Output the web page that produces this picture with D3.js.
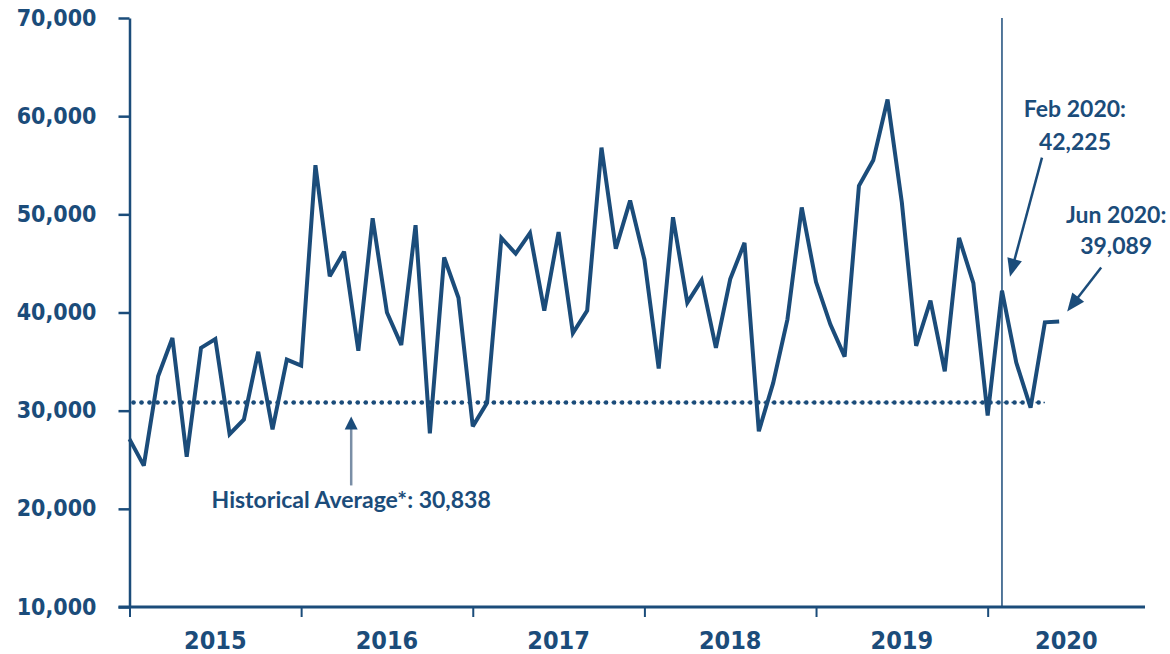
<!DOCTYPE html>
<html>
<head>
<meta charset="utf-8">
<script src="https://cdn.jsdelivr.net/npm/d3@7"></script>
<style>
  body { margin: 0; background: #fff; }
  .lbl { fill: #1b4c7a; font-weight: bold; }
</style>
</head>
<body>
<svg id="chart" width="1170" height="654"></svg>
<script>
// monthly counts, Jan 2015 .. Jun 2020
const years = ['2015', '2016', '2017', '2018', '2019', '2020'];
const values = [
  27100, 24400, 33500, 37400, 25300, 36400, 37300, 27600, 29100, 36000, 28100, 35200,
  34600, 55000, 43700, 46200, 36100, 49600, 40000, 36700, 48900, 27700, 45600, 41500,
  28400, 30800, 47600, 46000, 48100, 40200, 48200, 37900, 40200, 56800, 46500, 51400,
  45400, 34300, 49700, 41000, 43300, 36400, 43400, 47100, 27900, 32800, 39300, 50700,
  43100, 38800, 35500, 52900, 55500, 61700, 51200, 36600, 41200, 34000, 47600, 43000,
  29500, 42225, 34900, 30300, 39000, 39089
];
const yTicks = [10000, 20000, 30000, 40000, 50000, 60000, 70000];
const histAvg = 30838;
const febIdx = 61, junIdx = 65;

const blue = '#1b4c7a';
const svg = d3.select('#chart');

const x = d3.scaleLinear().domain([0, 71]).range([129.5, 1145]);
const y = d3.scaleLinear().domain([10000, 70000]).range([607, 18]);

const condensed = '"DejaVu Sans Condensed", "DejaVu Sans", sans-serif';
const calibriLike = 'Lato, "Open Sans", sans-serif';

// y axis
const yAxis = svg.append('g')
  .attr('transform', `translate(${x(0)},0)`)
  .call(d3.axisLeft(y).tickValues(yTicks).tickSize(11).tickSizeOuter(0)
    .tickPadding(22).tickFormat(d3.format(',')));
yAxis.select('.domain').attr('stroke', blue).attr('stroke-width', 2.5);
yAxis.selectAll('.tick line').attr('stroke', blue).attr('stroke-width', 2.5);
yAxis.selectAll('.tick text')
  .attr('class', 'lbl')
  .attr('dy', null).attr('y', 7)
  .style('font-family', condensed).style('font-stretch', 'condensed')
  .style('font-size', '23px');

// x axis
const xAxis = svg.append('g')
  .attr('transform', `translate(0,${y(10000)})`)
  .call(d3.axisBottom(x).tickValues(years.map((d, i) => i * 12))
    .tickSize(10).tickSizeOuter(0).tickFormat(''));
xAxis.select('.domain').remove();
xAxis.selectAll('.tick line').attr('stroke', blue).attr('stroke-width', 2);
xAxis.append('line')
  .attr('x1', x(0) - 11).attr('x2', x(71))
  .attr('stroke', blue).attr('stroke-width', 3);

svg.append('g').selectAll('text')
  .data(years)
  .join('text')
  .attr('class', 'lbl')
  .attr('x', (d, i) => x(i === years.length - 1 ? (i * 12 + 71) / 2 : i * 12 + 6))
  .attr('y', 649)
  .attr('text-anchor', 'middle')
  .style('font-family', condensed).style('font-stretch', 'condensed')
  .style('font-size', '25px')
  .text(d => d);

// Feb 2020 marker line
svg.append('line')
  .attr('x1', x(febIdx)).attr('x2', x(febIdx))
  .attr('y1', y(70000)).attr('y2', y(10000))
  .attr('stroke', blue).attr('stroke-width', 1.5);

// historical average (dotted)
const avgY = y(histAvg);
svg.append('line')
  .attr('x1', x(0)).attr('x2', x(64))
  .attr('y1', avgY).attr('y2', avgY)
  .attr('stroke', blue).attr('stroke-width', 1.6)
  .attr('stroke-dasharray', '4 4').attr('stroke-dashoffset', -2);
svg.append('line')
  .attr('x1', x(0) + 4).attr('x2', x(64))
  .attr('y1', avgY).attr('y2', avgY)
  .attr('stroke', blue).attr('stroke-width', 4.5)
  .attr('stroke-linecap', 'round')
  .attr('stroke-dasharray', '0.01 8');

// series line
const line = d3.line().x((d, i) => x(i)).y(d => y(d));
svg.append('path')
  .datum(values)
  .attr('d', line)
  .attr('fill', 'none')
  .attr('stroke', blue)
  .attr('stroke-width', 4)
  .attr('stroke-linejoin', 'miter')
  .attr('stroke-miterlimit', 3);

// annotations
function arrow(x1, y1, x2, y2, shaftColor, len, half) {
  const dx = x2 - x1, dy = y2 - y1, l = Math.hypot(dx, dy);
  const ux = dx / l, uy = dy / l;
  const bx = x2 - ux * len, by = y2 - uy * len;
  svg.append('line')
    .attr('x1', x1).attr('y1', y1).attr('x2', bx + ux * 2).attr('y2', by + uy * 2)
    .attr('stroke', shaftColor).attr('stroke-width', 2.5);
  svg.append('path')
    .attr('d', `M${x2},${y2}L${bx - uy * half},${by + ux * half}L${bx + uy * half},${by - ux * half}Z`)
    .attr('fill', blue);
}

function note(cx, lines, baseY, step) {
  svg.append('g').selectAll('text')
    .data(lines)
    .join('text')
    .attr('class', 'lbl')
    .attr('x', cx)
    .attr('y', (d, i) => baseY + i * step)
    .attr('text-anchor', 'middle')
    .style('font-family', calibriLike)
    .style('font-size', '23px')
    .text(d => d);
}

const fmt = d3.format(',');

// historical average
const hx = x(15.5);
arrow(hx, avgY + 83, hx, avgY + 14, '#7a8ea6', 13, 6.5);
note(hx, [`Historical Average*: ${fmt(histAvg)}`], avgY + 106, 0);

// Feb 2020
const fx = x(febIdx), fy = y(values[febIdx]);
arrow(fx + 40, fy - 133, fx + 8, fy - 14, blue, 18, 7.5);
note(fx + 73, ['Feb 2020:', fmt(values[febIdx])], fy - 174, 33);

// Jun 2020
const jx = x(junIdx), jy = y(values[junIdx]);
arrow(jx + 42, jy - 54, jx + 8, jy - 10, blue, 18, 7.5);
note(jx + 57, ['Jun 2020:', fmt(values[junIdx])], jy - 98, 31);
</script>
</body>
</html>
